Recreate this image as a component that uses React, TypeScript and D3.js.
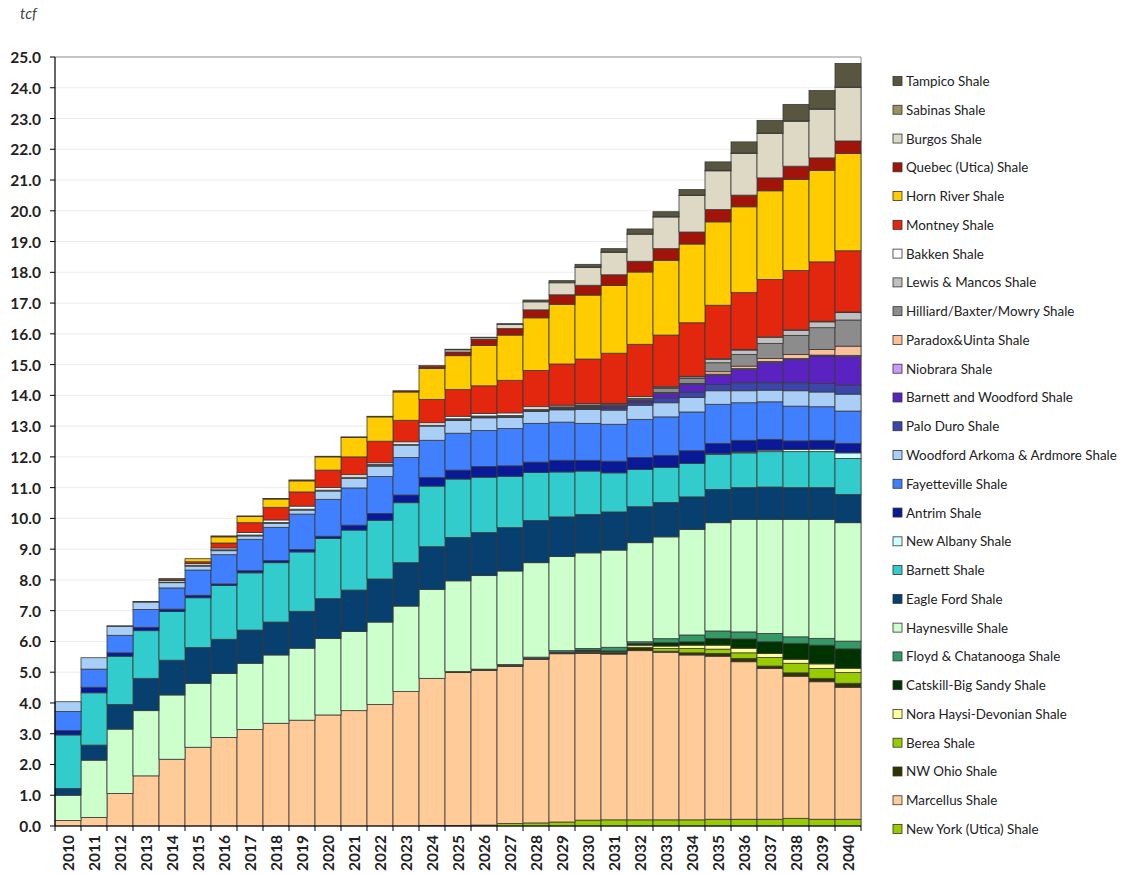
import React from "react";
import * as d3 from "d3";

const years = d3.range(2010, 2041).map(String);
const yTicks = d3.range(0, 26, 1);

// values in tcf, index 0 = 2010 ... 30 = 2040
const newYorkUtica = [0,0,0,0,0,0,0,0,0,0,0,0,0,0,0.02,0.02,0.03,0.08,0.10,0.13,0.19,0.20,0.20,0.20,0.20,0.22,0.22,0.22,0.25,0.22,0.22];
const marcellus = [0.18,0.28,1.06,1.63,2.17,2.56,2.88,3.14,3.34,3.44,3.61,3.75,3.95,4.37,4.78,4.97,5.03,5.11,5.32,5.47,5.42,5.39,5.50,5.45,5.36,5.30,5.12,4.90,4.62,4.47,4.29];
const nwOhio = [0,0,0,0,0,0,0,0,0,0,0,0,0,0,0,0.02,0.02,0.03,0.03,0.03,0.04,0.05,0.11,0.03,0.07,0.09,0.11,0.08,0.11,0.11,0.13];
const berea = [0,0,0,0,0,0,0,0,0,0,0,0,0,0,0,0,0,0,0,0,0.02,0.01,0,0.09,0.14,0.14,0.18,0.28,0.31,0.32,0.35];
const noraHaysi = [0,0,0,0,0,0,0,0,0,0,0,0,0,0,0,0,0,0,0,0,0.01,0.01,0.07,0.08,0.11,0.13,0.15,0.13,0.13,0.15,0.14];
const catskill = [0,0,0,0,0,0,0,0,0,0,0,0,0,0,0,0,0,0,0,0.02,0.04,0.03,0.06,0.11,0.11,0.22,0.30,0.38,0.52,0.61,0.63];
const floyd = [0,0,0,0,0,0,0,0,0,0,0,0,0,0,0,0.01,0.02,0.03,0.04,0.05,0.05,0.12,0.05,0.13,0.22,0.24,0.23,0.27,0.21,0.22,0.25];
const haynesville = [0.82,1.86,2.09,2.12,2.09,2.08,2.08,2.15,2.22,2.34,2.49,2.57,2.68,2.78,2.89,2.95,3.04,3.04,3.07,3.06,3.11,3.16,3.22,3.31,3.43,3.52,3.66,3.71,3.82,3.87,3.85];
const eagleFord = [0.22,0.49,0.80,1.05,1.13,1.16,1.11,1.08,1.07,1.20,1.29,1.35,1.40,1.41,1.39,1.41,1.40,1.41,1.37,1.29,1.25,1.24,1.17,1.12,1.06,1.08,1.03,1.05,1.03,1.03,0.92];
const barnett = [1.74,1.70,1.57,1.55,1.58,1.62,1.75,1.86,1.93,1.93,1.96,1.95,1.91,1.95,1.97,1.90,1.80,1.67,1.56,1.46,1.41,1.27,1.21,1.14,1.09,1.14,1.13,1.15,1.17,1.17,1.17];
const newAlbany = [0,0,0,0,0,0,0,0,0,0,0,0,0,0,0,0,0,0,0,0,0,0,0,0,0,0.02,0.03,0.05,0.07,0.08,0.18];
const antrim = [0.14,0.18,0.11,0.11,0.08,0.08,0.05,0.07,0.07,0.08,0.07,0.16,0.22,0.25,0.28,0.29,0.35,0.34,0.34,0.38,0.35,0.38,0.39,0.39,0.41,0.34,0.38,0.35,0.28,0.29,0.31];
const fayetteville = [0.62,0.59,0.57,0.58,0.69,0.82,0.95,1.02,1.08,1.15,1.20,1.21,1.20,1.22,1.21,1.20,1.17,1.21,1.26,1.24,1.20,1.20,1.24,1.25,1.26,1.27,1.22,1.22,1.13,1.09,1.05];
const woodfordArkoma = [0.32,0.37,0.29,0.24,0.17,0.13,0.13,0.11,0.13,0.13,0.27,0.31,0.34,0.40,0.46,0.41,0.41,0.37,0.39,0.40,0.45,0.46,0.46,0.46,0.47,0.44,0.39,0.38,0.50,0.48,0.55];
const paloDuro = [0,0,0,0,0,0,0,0,0,0,0,0,0,0,0,0.01,0.01,0.01,0.02,0.03,0.04,0.06,0.08,0.16,0.18,0.20,0.26,0.24,0.26,0.28,0.29];
const barnettWoodford = [0,0,0,0,0,0,0,0,0,0,0,0,0,0,0,0.01,0.01,0.01,0.01,0.02,0.03,0.05,0.06,0.14,0.25,0.31,0.43,0.66,0.76,0.89,0.93];
const niobrara = [0,0,0,0,0,0,0,0,0,0,0,0,0,0,0,0,0,0,0,0,0.01,0.01,0.01,0.01,0.01,0.03,0.03,0.03,0.03,0.03,0.04];
const paradoxUinta = [0,0,0,0,0,0,0,0,0,0,0,0,0,0,0,0,0,0,0,0,0.01,0.01,0.01,0.02,0.02,0.08,0.08,0.10,0.13,0.18,0.30];
const hilliard = [0,0,0,0,0,0,0,0,0,0,0,0,0.03,0,0,0.01,0.01,0.01,0.01,0.02,0.03,0.03,0.04,0.13,0.16,0.29,0.38,0.49,0.62,0.71,0.85];
const lewisMancos = [0,0,0.02,0.02,0.02,0.03,0.03,0.03,0.03,0.03,0.03,0.04,0.03,0.03,0.03,0.03,0.03,0.03,0.03,0.03,0.03,0.03,0.03,0.04,0.05,0.11,0.14,0.19,0.16,0.19,0.24];
const bakken = [0,0,0,0,0.05,0.05,0.06,0.08,0.08,0.10,0.08,0.08,0.05,0.08,0.08,0.08,0.08,0.08,0.08,0.05,0.04,0.03,0.05,0.02,0.02,0.02,0.02,0.02,0.02,0.02,0.02];
const montney = [0,0,0,0,0.03,0.06,0.16,0.32,0.41,0.46,0.57,0.58,0.70,0.70,0.76,0.87,0.90,1.06,1.18,1.34,1.45,1.63,1.70,1.68,1.74,1.74,1.85,1.87,1.93,1.93,1.99];
const hornRiver = [0,0,0,0,0.04,0.10,0.20,0.20,0.27,0.36,0.43,0.63,0.79,0.92,1.00,1.10,1.31,1.47,1.71,1.94,2.08,2.20,2.35,2.43,2.56,2.71,2.79,2.88,2.96,2.97,3.16];
const quebecUtica = [0,0,0,0,0,0,0.03,0.02,0.02,0.03,0.02,0.02,0.02,0.04,0.07,0.12,0.21,0.21,0.26,0.31,0.32,0.35,0.35,0.38,0.39,0.40,0.38,0.42,0.43,0.41,0.41];
const burgos = [0,0,0,0,0,0,0,0,0,0,0,0,0,0,0.03,0.07,0.05,0.14,0.26,0.39,0.58,0.73,0.88,1.03,1.19,1.26,1.35,1.44,1.46,1.58,1.74];
const sabinas = [0,0,0,0,0,0,0,0,0,0,0,0,0,0,0,0,0,0,0,0,0.01,0.01,0.01,0.01,0.01,0.02,0.02,0.02,0.02,0.02,0.02];
const tampico = [0,0,0,0,0,0,0,0,0,0,0,0,0,0,0,0.02,0.01,0.02,0.06,0.07,0.09,0.11,0.16,0.16,0.18,0.27,0.36,0.41,0.53,0.59,0.76];

// bottom-to-top stacking order
const series = [
  { name: "New York (Utica) Shale", values: newYorkUtica, color: "#99CC00" },
  { name: "Marcellus Shale", values: marcellus, color: "#FFCC99" },
  { name: "NW Ohio Shale", values: nwOhio, color: "#333300" },
  { name: "Berea Shale", values: berea, color: "#99CC00" },
  { name: "Nora Haysi-Devonian Shale", values: noraHaysi, color: "#FFFF99" },
  { name: "Catskill-Big Sandy Shale", values: catskill, color: "#003300" },
  { name: "Floyd & Chatanooga Shale", values: floyd, color: "#339966" },
  { name: "Haynesville Shale", values: haynesville, color: "#CCFFCC" },
  { name: "Eagle Ford Shale", values: eagleFord, color: "#073F6E" },
  { name: "Barnett Shale", values: barnett, color: "#33CCCC" },
  { name: "New Albany Shale", values: newAlbany, color: "#CCFFFF" },
  { name: "Antrim Shale", values: antrim, color: "#0A1A96" },
  { name: "Fayetteville Shale", values: fayetteville, color: "#4080FF" },
  { name: "Woodford Arkoma & Ardmore Shale", values: woodfordArkoma, color: "#A9CFF7" },
  { name: "Palo Duro Shale", values: paloDuro, color: "#3A46A8" },
  { name: "Barnett and Woodford Shale", values: barnettWoodford, color: "#5A22C0" },
  { name: "Niobrara Shale", values: niobrara, color: "#CC99FF" },
  { name: "Paradox&Uinta Shale", values: paradoxUinta, color: "#FAC09A" },
  { name: "Hilliard/Baxter/Mowry Shale", values: hilliard, color: "#8C8C8C" },
  { name: "Lewis & Mancos Shale", values: lewisMancos, color: "#C0C0C0" },
  { name: "Bakken Shale", values: bakken, color: "#FFFFFF" },
  { name: "Montney Shale", values: montney, color: "#E3260E" },
  { name: "Horn River Shale", values: hornRiver, color: "#FFCC00" },
  { name: "Quebec (Utica) Shale", values: quebecUtica, color: "#A0140A" },
  { name: "Burgos Shale", values: burgos, color: "#DDD9C4" },
  { name: "Sabinas Shale", values: sabinas, color: "#9C8F63" },
  { name: "Tampico Shale", values: tampico, color: "#59563F" },
];

const W = 1122;
const H = 875;
const plot = { left: 55, right: 861, top: 57, bottom: 826 };

export default function App() {
  const x = d3.scaleBand<string>().domain(years).range([plot.left, plot.right]).padding(0);
  const y = d3.scaleLinear().domain([0, 25]).range([plot.bottom, plot.top]);

  const table = years.map((yr, i) => {
    const row: Record<string, number | string> = { year: yr };
    series.forEach((s) => (row[s.name] = s.values[i]));
    return row;
  });
  const stacked = d3.stack<any>().keys(series.map((s) => s.name))(table);

  const legendTop = 81;
  const legendStep = 28.77;
  const legendItems = [...series].reverse();

  const labelFont = "Lato, 'Open Sans', sans-serif";

  return (
    <svg width={W} height={H} style={{ position: "absolute", left: 0, top: 0, background: "#fff" }}>
      <rect x={0} y={0} width={W} height={H} fill="#fff" />
      <text x={20} y={19} fontFamily={labelFont} fontStyle="italic" fontSize={15} fill="#444">tcf</text>

      {/* gridlines */}
      {yTicks.slice(1, -1).map((t) => (
        <line key={"g" + t} x1={plot.left} x2={plot.right} y1={y(t)} y2={y(t)} stroke="#ececec" strokeWidth={1} />
      ))}
      <line x1={plot.left} x2={plot.right} y1={y(25)} y2={y(25)} stroke="#8a8a8a" strokeWidth={1} />
      <line x1={plot.right} x2={plot.right} y1={y(25)} y2={plot.bottom} stroke="#8a8a8a" strokeWidth={1} />

      {/* bars */}
      {stacked.map((layer, si) => (
        <g key={series[si].name}>
          {layer.map((d, i) => {
            const v = d[1] - d[0];
            if (v <= 0) return null;
            const yr = years[i];
            return (
              <rect
                key={yr}
                x={x(yr)!}
                width={x.bandwidth()}
                y={y(d[1])}
                height={y(d[0]) - y(d[1])}
                fill={series[si].color}
                stroke="#3a3a3a"
                strokeWidth={0.8}
              />
            );
          })}
        </g>
      ))}

      {/* y axis */}
      <line x1={plot.left} x2={plot.left} y1={y(25)} y2={plot.bottom} stroke="#000" strokeWidth={1.2} />
      {yTicks.map((t) => (
        <g key={"yt" + t}>
          <line x1={plot.left - 5} x2={plot.left} y1={y(t)} y2={y(t)} stroke="#000" strokeWidth={1} />
          <text x={41} y={y(t)} textAnchor="end" dominantBaseline="central" fontFamily={labelFont} fontWeight="bold" fontSize={15.5} fill="#222">
            {t.toFixed(1)}
          </text>
        </g>
      ))}

      {/* x axis */}
      <line x1={plot.left} x2={plot.right} y1={plot.bottom} y2={plot.bottom} stroke="#000" strokeWidth={1.2} />
      {years.map((yr) => (
        <line key={"xt" + yr} x1={x(yr)! + x.bandwidth()} x2={x(yr)! + x.bandwidth()} y1={plot.bottom} y2={plot.bottom + 5} stroke="#000" strokeWidth={1} />
      ))}
      <line x1={plot.left} x2={plot.left} y1={plot.bottom} y2={plot.bottom + 5} stroke="#000" strokeWidth={1} />
      {years.map((yr) => {
        const cx = x(yr)! + x.bandwidth() / 2;
        return (
          <text
            key={"xl" + yr}
            transform={`translate(${cx},${plot.bottom + 9}) rotate(-90)`}
            textAnchor="end"
            dominantBaseline="central"
            fontFamily={labelFont}
            fontWeight="bold"
            fontSize={15.5}
            fill="#222"
          >
            {yr}
          </text>
        );
      })}

      {/* legend */}
      {legendItems.map((s, i) => {
        const cy = legendTop + i * legendStep;
        return (
          <g key={"lg" + s.name}>
            <rect x={893} y={cy - 4.5} width={9} height={9} fill={s.color} stroke="#333" strokeWidth={0.8} />
            <text x={906} y={cy} dominantBaseline="central" fontFamily={labelFont} fontSize={13.4} fill="#222">
              {s.name}
            </text>
          </g>
        );
      })}
    </svg>
  );
}
